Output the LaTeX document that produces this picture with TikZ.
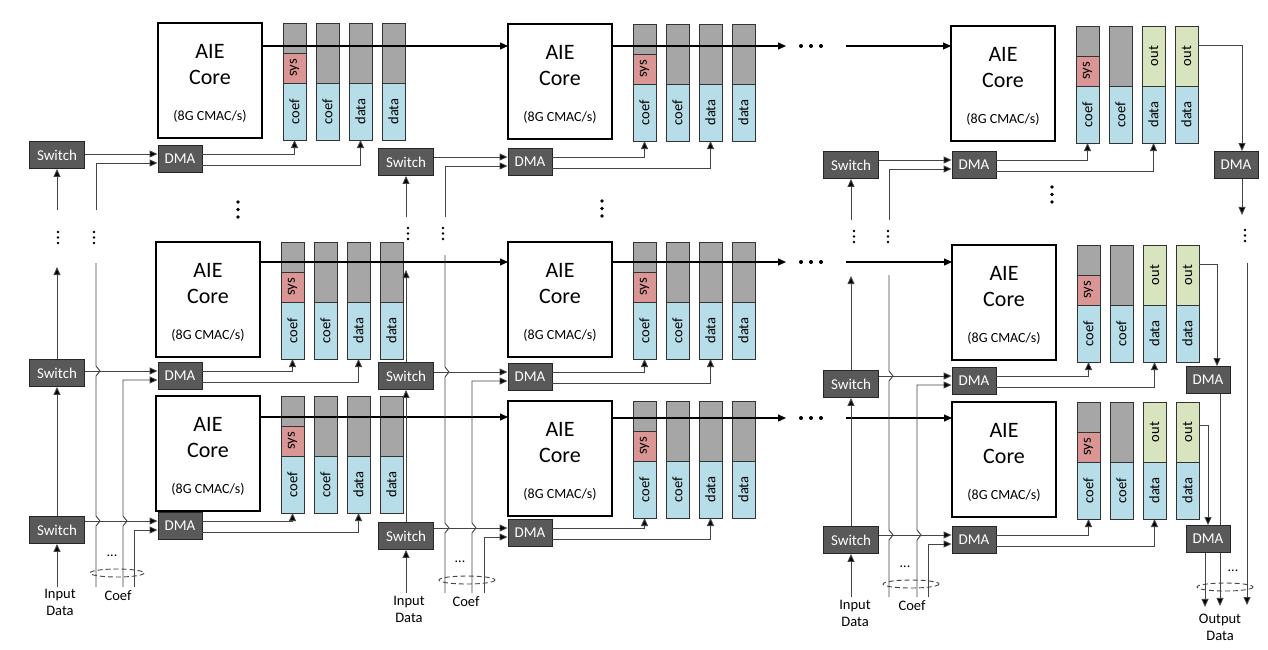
\documentclass[tikz,border=0pt]{standalone}
\usepackage{fontspec}
\setmainfont{Carlito}
\usetikzlibrary{arrows.meta}
\definecolor{boxgray}{HTML}{595959}
\definecolor{bufgray}{HTML}{A6A6A6}
\definecolor{bufblue}{HTML}{B7DEE8}
\definecolor{bufpink}{HTML}{D99694}
\definecolor{bufgreen}{HTML}{D7E4BD}
\definecolor{wiregray}{HTML}{454545}
\tikzstyle{core}=[draw, line width=1.3pt, fill=white, anchor=north west, inner sep=0pt, outer sep=0pt, minimum width=104pt, minimum height=115pt]
\tikzstyle{coretext}=[font=\fontsize{22}{22}\selectfont, inner sep=0pt]
\tikzstyle{ratetext}=[font=\fontsize{14}{14}\selectfont, inner sep=0pt]
\tikzstyle{bufpart}=[draw=black!80, line width=0.9pt, inner sep=0pt, outer sep=0pt, minimum width=23pt, anchor=north]
\tikzstyle{buflabel}=[rotate=90, font=\fontsize{14.5}{14.5}\selectfont, inner sep=0pt]
\tikzstyle{hwbox}=[draw=black!85, line width=0.9pt, fill=boxgray, text=white, font=\fontsize{15}{15}\selectfont, inner sep=0pt, minimum height=27pt]
\tikzstyle{switchbox}=[hwbox, minimum width=55pt]
\tikzstyle{dmabox}=[hwbox, minimum width=44pt]
\tikzstyle{wire}=[draw=wiregray, line width=0.9pt]
\tikzstyle{arr}=[wire, -{Triangle[length=8pt, width=7pt, fill=black]}]
\tikzstyle{rowarr}=[arr, draw=black, line width=1.1pt]
\tikzstyle{caption}=[font=\fontsize{14.5}{17}\selectfont, align=center, inner sep=0pt, anchor=north]

% one AIE tile: core and its four buffers
\newcommand{\aietile}[5]{%
    \node[core] (#1) at (#2,#3) {};
    \path (#1.north) ++(0,35) node[coretext, anchor=base] {AIE};
    \path (#1.north) ++(0,61) node[coretext, anchor=base] {Core};
    \path (#1.north) ++(0,93) node[ratetext] {(8G CMAC/s)};
    \path (#1.north west) ++(136.5,0) node[bufpart, fill=bufgray, minimum height=30pt] (#1ag) {};
    \node[bufpart, fill=bufpink, minimum height=30pt, label={[buflabel]center:sys}] (#1as) at (#1ag.south) {};
    \node[bufpart, fill=bufblue, minimum height=57pt, label={[buflabel]center:coef}] (#1a) at (#1as.south) {};
    \path (#1.north west) ++(169.5,0) node[bufpart, fill=bufgray, minimum height=60pt] (#1bg) {};
    \node[bufpart, fill=bufblue, minimum height=57pt, label={[buflabel]center:coef}] (#1b) at (#1bg.south) {};
    \path (#1.north west) ++(202.5,0) node[bufpart, fill=#4, minimum height=60pt, label={[buflabel]center:#5}] (#1cg) {};
    \node[bufpart, fill=bufblue, minimum height=57pt, label={[buflabel]center:data}] (#1c) at (#1cg.south) {};
    \path (#1.north west) ++(235.5,0) node[bufpart, fill=#4, minimum height=60pt, label={[buflabel]center:#5}] (#1dg) {};
    \node[bufpart, fill=bufblue, minimum height=57pt, label={[buflabel]center:data}] (#1d) at (#1dg.south) {};
}

\begin{document}
\begin{tikzpicture}[x=1pt, y=-1pt]
    \fill[white] (0,0) rectangle (1268,649);
    \useasboundingbox (0,0) rectangle (1268,649);
% Tiles
    \aietile{aie11}{158}{23}{bufgray}{}
    \aietile{aie12}{156}{242}{bufgray}{}
    \aietile{aie13}{156}{396}{bufgray}{}
    \aietile{aie21}{508}{24}{bufgray}{}
    \aietile{aie22}{508}{242}{bufgray}{}
    \aietile{aie23}{508}{401}{bufgray}{}
    \aietile{aie31}{951}{26}{bufgreen}{out}
    \aietile{aie32}{952}{245}{bufgreen}{out}
    \aietile{aie33}{952}{402}{bufgreen}{out}
% Core to core
    \coordinate (r1) at ([yshift=-23pt]aie11.north east);
    \draw[rowarr] (r1) -- (r1 -| aie21.west);
    \coordinate (r2) at ([yshift=-22pt]aie21.north east);
    \draw[rowarr] (r2) -- ++(174,0);
    \fill (r2) ++(189,0) circle (2pt) ++(10,0) circle (2pt) ++(10,0) circle (2pt);
    \path (r2) ++(234,0) coordinate (g2);
    \draw[rowarr] (g2) -- (g2 -| aie31.west);
    \coordinate (r3) at ([yshift=-20pt]aie12.north east);
    \draw[rowarr] (r3) -- (r3 -| aie22.west);
    \coordinate (r4) at ([yshift=-20pt]aie22.north east);
    \draw[rowarr] (r4) -- ++(174,0);
    \fill (r4) ++(189,0) circle (2pt) ++(10,0) circle (2pt) ++(10,0) circle (2pt);
    \path (r4) ++(234,0) coordinate (g4);
    \draw[rowarr] (g4) -- (g4 -| aie32.west);
    \coordinate (r5) at ([yshift=-21pt]aie13.north east);
    \draw[rowarr] (r5) -- (r5 -| aie23.west);
    \coordinate (r6) at ([yshift=-17pt]aie23.north east);
    \draw[rowarr] (r6) -- ++(174,0);
    \fill (r6) ++(189,0) circle (2pt) ++(10,0) circle (2pt) ++(10,0) circle (2pt);
    \path (r6) ++(234,0) coordinate (g6);
    \draw[rowarr] (g6) -- (g6 -| aie33.west);
% Switches and DMAs
    \node[switchbox] (sw11) at (57,155) {Switch};
    \node[switchbox] (sw12) at (57,373) {Switch};
    \node[switchbox] (sw13) at (57,530) {Switch};
    \node[switchbox] (sw21) at (406,162) {Switch};
    \node[switchbox] (sw22) at (406,376) {Switch};
    \node[switchbox] (sw23) at (406,536) {Switch};
    \node[switchbox] (sw31) at (851,165) {Switch};
    \node[switchbox] (sw32) at (851,384) {Switch};
    \node[switchbox] (sw33) at (851,540) {Switch};
    \node[dmabox] (dma11) at (180,159) {DMA};
    \node[dmabox] (dma12) at (180,376) {DMA};
    \node[dmabox] (dma13) at (180,526) {DMA};
    \node[dmabox] (dma21) at (530,162) {DMA};
    \node[dmabox] (dma22) at (530,377) {DMA};
    \node[dmabox] (dma23) at (530,533) {DMA};
    \node[dmabox] (dma31) at (974,165) {DMA};
    \node[dmabox] (dma32) at (974,381) {DMA};
    \node[dmabox] (dma33) at (974,540) {DMA};
% Switch chain
    \draw[arr] (57,587) -- (sw13.south);
    \draw[arr] (sw13.north) -- (sw12.south);
    \draw[arr] (sw12.north) -- ++(0,-92);
    \draw[arr] (57,210) -- (sw11.south);
    \draw[arr] (406,593) -- (sw23.south);
    \draw[arr] (sw23.north) -- (sw22.south);
    \draw[arr] (sw22.north) -- ++(0,-92);
    \draw[arr] (406,217) -- (sw21.south);
    \draw[arr] (851,597) -- (sw33.south);
    \draw[arr] (sw33.north) -- (sw32.south);
    \draw[arr] (sw32.north) -- ++(0,-94);
    \draw[arr] (851,220) -- (sw31.south);
% Switch to DMA
    \draw[arr] ([yshift=5pt]dma11.west -| sw11.east) -- ([yshift=5pt]dma11.west);
    \draw[arr] ([yshift=5pt]dma12.west -| sw12.east) -- ([yshift=5pt]dma12.west);
    \draw[arr] ([yshift=5pt]dma13.west -| sw13.east) -- ([yshift=5pt]dma13.west);
    \draw[arr] ([yshift=5pt]dma21.west -| sw21.east) -- ([yshift=5pt]dma21.west);
    \draw[arr] ([yshift=5pt]dma22.west -| sw22.east) -- ([yshift=5pt]dma22.west);
    \draw[arr] ([yshift=5pt]dma23.west -| sw23.east) -- ([yshift=5pt]dma23.west);
    \draw[arr] ([yshift=5pt]dma31.west -| sw31.east) -- ([yshift=5pt]dma31.west);
    \draw[arr] ([yshift=5pt]dma32.west -| sw32.east) -- ([yshift=5pt]dma32.west);
    \draw[arr] ([yshift=5pt]dma33.west -| sw33.east) -- ([yshift=5pt]dma33.west);
% Coef lines
    \draw[wire] (96,587) -- (96,526) -- (100,521) -- (96,516) -- (96,376) -- (100,371) -- (96,366) -- (96,263);
    \draw[arr] (96,210) |- ([yshift=-4pt]dma11.west);
    \draw[arr] (123,587) -- (123,526) -- (127,521) -- (123,516) |- ([yshift=-4pt]dma12.west);
    \draw[arr] (134,587) |- ([yshift=-4pt]dma13.west);
    \draw[wire] (445,593) -- (445,533) -- (449,528) -- (445,523) -- (445,377) -- (449,372) -- (445,367) -- (445,255);
    \draw[arr] (445,217) |- ([yshift=-4pt]dma21.west);
    \draw[arr] (472,593) -- (472,533) -- (476,528) -- (472,523) |- ([yshift=-4pt]dma22.west);
    \draw[arr] (484,593) |- ([yshift=-4pt]dma23.west);
    \draw[wire] (889,597) -- (889,540) -- (893,535) -- (889,530) -- (889,381) -- (893,376) -- (889,371) -- (889,275);
    \draw[arr] (889,220) |- ([yshift=-4pt]dma31.west);
    \draw[arr] (917,597) -- (917,540) -- (921,535) -- (917,530) |- ([yshift=-4pt]dma32.west);
    \draw[arr] (928,597) |- ([yshift=-4pt]dma33.west);
% DMA to buffers
    \draw[arr] ([yshift=5pt]dma11.east) -| (aie11a.south);
    \draw[arr] ([yshift=-6pt]dma11.east) -| (aie11c.south);
    \draw[arr] ([yshift=5pt]dma12.east) -| (aie12a.south);
    \draw[arr] ([yshift=-6pt]dma12.east) -| (aie12c.south);
    \draw[arr] ([yshift=5pt]dma13.east) -| (aie13a.south);
    \draw[arr] ([yshift=-6pt]dma13.east) -| (aie13c.south);
    \draw[arr] ([yshift=5pt]dma21.east) -| (aie21a.south);
    \draw[arr] ([yshift=-6pt]dma21.east) -| (aie21c.south);
    \draw[arr] ([yshift=5pt]dma22.east) -| (aie22a.south);
    \draw[arr] ([yshift=-6pt]dma22.east) -| (aie22c.south);
    \draw[arr] ([yshift=5pt]dma23.east) -| (aie23a.south);
    \draw[arr] ([yshift=-6pt]dma23.east) -| (aie23c.south);
    \draw[arr] ([yshift=5pt]dma31.east) -| (aie31a.south);
    \draw[arr] ([yshift=-6pt]dma31.east) -| (aie31c.south);
    \draw[arr] ([yshift=5pt]dma32.east) -| (aie32a.south);
    \draw[arr] ([yshift=-6pt]dma32.east) -| (aie32c.south);
    \draw[arr] ([yshift=5pt]dma33.east) -| (aie33a.south);
    \draw[arr] ([yshift=-6pt]dma33.east) -| (aie33c.south);
% Output side
    \node[dmabox] (odma1) at (1236,165) {DMA};
    \node[dmabox] (odma2) at (1208,380) {DMA};
    \draw[arr] ([yshift=-19pt]aie31dg.north east) -| ([xshift=6pt]odma1.north);
    \draw[arr] ([xshift=6pt]odma1.south) -- ++(0,36);
    \draw[arr] (1247,263) -- (1247,605);
    \draw[arr] ([yshift=-19pt]aie32dg.north east) -| ([xshift=9pt]odma2.north);
    \draw[arr] ([xshift=12pt]odma2.south) -- ++(0,212);
    \node[dmabox] (odma3) at (1208,539) {DMA};
    \draw[arr] ([yshift=-23pt]aie33dg.north east) -| (odma3.north);
    \draw[arr] ([xshift=-3pt]odma3.south) -- ++(0,54);
% Bundles
    \draw[wire, dash pattern=on 5pt off 3pt] (117,573) ellipse [x radius=27, y radius=4];
    \draw[wire, dash pattern=on 5pt off 3pt] (467,580) ellipse [x radius=28, y radius=4];
    \draw[wire, dash pattern=on 5pt off 3pt] (911,584) ellipse [x radius=28, y radius=4];
    \draw[wire, dash pattern=on 5pt off 3pt] (1225,587) ellipse [x radius=28, y radius=4];
    \node[ratetext] at (112,556) {...};
    \node[ratetext] at (460,562) {...};
    \node[ratetext] at (905,567) {...};
    \node[ratetext] at (1233,571) {...};
% Vertical dots
    \fill (58,232) circle (1.3pt) ++(0,5.5) circle (1.3pt) ++(0,5.5) circle (1.3pt);
    \fill (94,232) circle (1.3pt) ++(0,5.5) circle (1.3pt) ++(0,5.5) circle (1.3pt);
    \fill (408,228) circle (1.3pt) ++(0,5.5) circle (1.3pt) ++(0,5.5) circle (1.3pt);
    \fill (443,228) circle (1.3pt) ++(0,5.5) circle (1.3pt) ++(0,5.5) circle (1.3pt);
    \fill (854,231) circle (1.3pt) ++(0,5.5) circle (1.3pt) ++(0,5.5) circle (1.3pt);
    \fill (888,231) circle (1.3pt) ++(0,5.5) circle (1.3pt) ++(0,5.5) circle (1.3pt);
    \fill (1245,230) circle (1.3pt) ++(0,5.5) circle (1.3pt) ++(0,5.5) circle (1.3pt);
    \fill (238,202) circle (1.8pt) ++(0,7.5) circle (1.8pt) ++(0,7.5) circle (1.8pt);
    \fill (602,201) circle (1.8pt) ++(0,7.5) circle (1.8pt) ++(0,7.5) circle (1.8pt);
    \fill (1052,187) circle (1.8pt) ++(0,7.5) circle (1.8pt) ++(0,7.5) circle (1.8pt);
% Labels
    \node[caption] at (60,589) {Input\\Data};
    \node[caption] at (118,590) {Coef};
    \node[caption] at (409,596) {Input\\Data};
    \node[caption] at (466,596) {Coef};
    \node[caption] at (855,600) {Input\\Data};
    \node[caption] at (912,600) {Coef};
    \node[caption] at (1220,614) {Output\\Data};
\end{tikzpicture}
\end{document}
